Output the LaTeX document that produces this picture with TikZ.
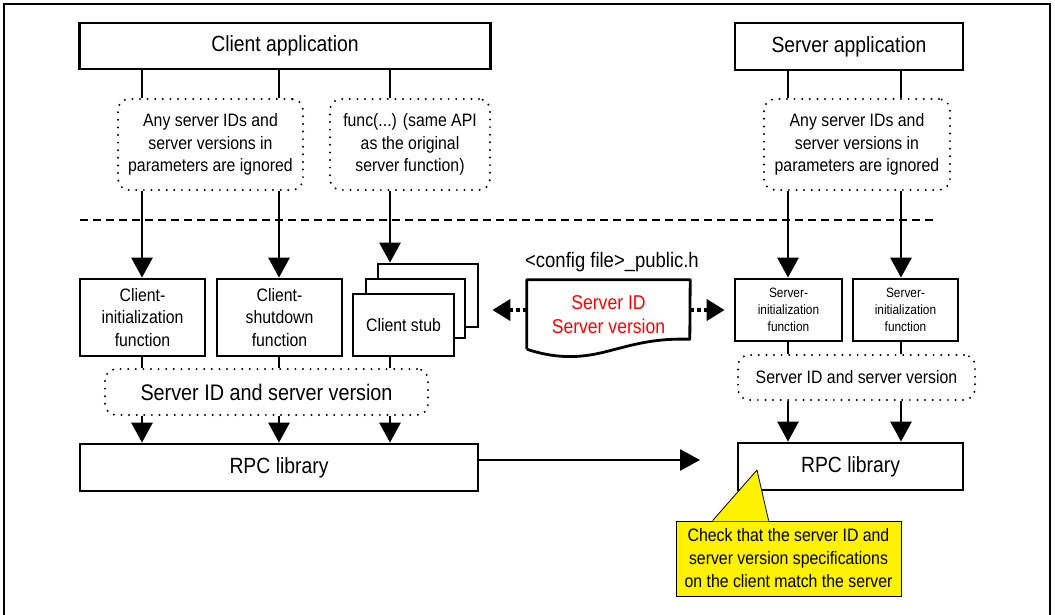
\documentclass[tikz,border=0pt]{standalone}
\usepackage{fontspec}
\setmainfont{Liberation Sans}[FakeStretch=0.88]
\usetikzlibrary{arrows.meta,calc}
\newcommand\szTitle{\fontsize{22}{26}\selectfont}
\newcommand\szBody{\fontsize{18}{22.5}\selectfont}
\newcommand\szSmall{\fontsize{13.5}{17}\selectfont}
\newcommand\szBig{\fontsize{22.5}{26}\selectfont}
\newcommand\szRed{\fontsize{20}{24}\selectfont}
\newcommand\szCfg{\fontsize{21}{24}\selectfont}
\newcommand\szNote{\fontsize{18}{23}\selectfont}
\begin{document}
\begin{tikzpicture}[x=1pt,y=-1pt,
  box/.style={draw, line width=2.8pt, fill=white, inner sep=0pt, align=center},
  dotbox/.style={draw, line width=2.2pt, dash pattern=on 0pt off 7.6pt, line cap=round,
                 rounded corners=11pt, inner sep=0pt, align=center},
  conn/.style={line width=2.8pt},
  arr/.style={line width=2.8pt, -{Triangle[length=20pt,width=21pt]}},
  datalink/.style={line width=4pt, dash pattern=on 4pt off 3pt, -{Triangle[length=18pt,width=21pt]}},
  notebox/.style={draw, line width=0.8pt, fill=yellow, inner sep=0pt, align=center},
]
\useasboundingbox (0,0) rectangle (1055,614);

% outer frame (open at the bottom)
\draw[line width=2.5pt] (4,640) -- (4,4) -- (1050,4) -- (1050,640);

% column positions of the vertical connectors
\coordinate (colA) at (142,0);
\coordinate (colB) at (279,0);
\coordinate (colC) at (390,0);
\coordinate (colD) at (788,0);
\coordinate (colE) at (901,0);
\coordinate (rowD) at (0,310);

% applications
\node[box, minimum width=411pt, minimum height=46pt, font=\szTitle] (capp) at (285,46) {Client application};
\node[box, minimum width=228pt, minimum height=47pt, font=\szTitle] (sapp) at (849,46.5) {Server application};

% notes under the applications
\node[dotbox, minimum width=185pt, minimum height=91pt, font=\szBody] (ign1) at (210.5,144.5)
  {Any server IDs and\\server versions in\\parameters are ignored};
\node[dotbox, minimum width=160pt, minimum height=91pt, font=\szBody] (api) at (410,144.5)
  {func(...) (same API\\as the original\\server function)};
\node[dotbox, minimum width=186pt, minimum height=91pt, font=\szBody] (ign2) at (857,144.5)
  {Any server IDs and\\server versions in\\parameters are ignored};

% separator
\draw[line width=2pt, dash pattern=on 8pt off 5pt] (80,220) -- (937,220);

% client-side functions
\node[box, minimum width=125pt, minimum height=77pt, font=\szBody] (cinit) at (142.5,317.5)
  {Client-\\initialization\\function};
\node[box, minimum width=125pt, minimum height=77pt, font=\szBody] (cshut) at (279.5,317.5)
  {Client-\\shutdown\\function};
\node[box, minimum width=100pt, minimum height=63pt] (stubC) at (428,295.5) {};
\node[box, minimum width=99pt, minimum height=59pt] (stubB) at (415.5,308.5) {};
\node[box, minimum width=101pt, minimum height=62pt, font=\szBody] (stub) at (403.5,325) {Client stub};

% configuration header
\node[font=\szCfg] (cfg) at (612,262) {<config file>\_public.h};
\node[minimum width=163pt, minimum height=69pt, inner sep=0pt, align=center, text=red, font=\szRed]
  (doc) at (608.5,314.5) {Server ID\\Server version};
\draw[line width=2.8pt, line join=round]
  (doc.south west) -- (doc.north west) -- (doc.north east) -- ($(doc.south west)+(163,-10)$)
  .. controls ($(doc.south west)+(128,-11)$) and ($(doc.south west)+(108,-5)$) .. ($(doc.south west)+(81,2)$)
  .. controls ($(doc.south west)+(58,8)$) and ($(doc.south west)+(33,11)$) .. (doc.south west);

% server-side functions
\node[box, minimum width=107pt, minimum height=62pt, font=\szSmall] (sinit1) at (788.5,310)
  {Server-\\initialization\\function};
\node[box, minimum width=105pt, minimum height=62pt, font=\szSmall] (sinit2) at (905.5,310)
  {Server-\\initialization\\function};

% server ID / version bands
\node[dotbox, minimum width=323pt, minimum height=46pt, font=\szBig] (cid) at (266.5,392)
  {Server ID and server version};
\node[dotbox, minimum width=237pt, minimum height=45pt, font=\szBody] (sid) at (856.5,377.5)
  {Server ID and server version};

% RPC libraries
\node[box, minimum width=398pt, minimum height=47pt, font=\szTitle] (crpc) at (279,467.5) {RPC library};
\node[box, minimum width=225pt, minimum height=47pt, font=\szTitle] (srpc) at (850.5,466.5) {RPC library};

% client connectors
\draw[conn] (capp.south -| colA) -- (ign1.north -| colA);
\draw[conn] (capp.south -| colB) -- (ign1.north -| colB);
\draw[conn] (capp.south -| colC) -- (api.north -| colC);
\draw[arr] (ign1.south -| colA) -- (cinit.north -| colA);
\draw[arr] (ign1.south -| colB) -- (cshut.north -| colB);
\draw[arr] (api.south -| colC) -- (stubC.north -| colC);
\draw[conn] (cinit.south -| colA) -- (cid.north -| colA);
\draw[conn] (cshut.south -| colB) -- (cid.north -| colB);
\draw[conn] (stub.south -| colC) -- (cid.north -| colC);
\draw[arr] (cid.south -| colA) -- (crpc.north -| colA);
\draw[arr] (cid.south -| colB) -- (crpc.north -| colB);
\draw[arr] (cid.south -| colC) -- (crpc.north -| colC);

% server connectors
\draw[conn] (sapp.south -| colD) -- (ign2.north -| colD);
\draw[conn] (sapp.south -| colE) -- (ign2.north -| colE);
\draw[arr] (ign2.south -| colD) -- (sinit1.north -| colD);
\draw[arr] (ign2.south -| colE) -- (sinit2.north -| colE);
\draw[conn] (sinit1.south -| colD) -- (sid.north -| colD);
\draw[conn] (sinit2.south -| colE) -- (sid.north -| colE);
\draw[arr] (sid.south -| colD) -- (srpc.north -| colD);
\draw[arr] (sid.south -| colE) -- (srpc.north -| colE);

% header is used on both sides
\draw[datalink, shorten >=13pt] (doc.west |- rowD) -- (stubC.east |- rowD);
\draw[datalink, shorten >=9pt] (doc.east |- rowD) -- (sinit1.west |- rowD);

% client RPC talks to server RPC
\coordinate (rpcin) at (700,460);
\draw[arr] (crpc.east |- rpcin) -- (rpcin);

% callout
\node[notebox, minimum width=225pt, minimum height=75pt, font=\szNote] (note) at (788.5,558.5)
  {Check that the server ID and\\server version specifications\\on the client match the server};
\coordinate (tip) at (757,470);
\fill[yellow] ([xshift=37pt,yshift=-0.7pt]note.north west) -- (tip) -- ([xshift=93pt,yshift=-0.7pt]note.north west) -- cycle;
\draw[line width=0.8pt, line join=round] ([xshift=37pt]note.north west) -- (tip) -- ([xshift=93pt]note.north west);
\end{tikzpicture}
\end{document}
